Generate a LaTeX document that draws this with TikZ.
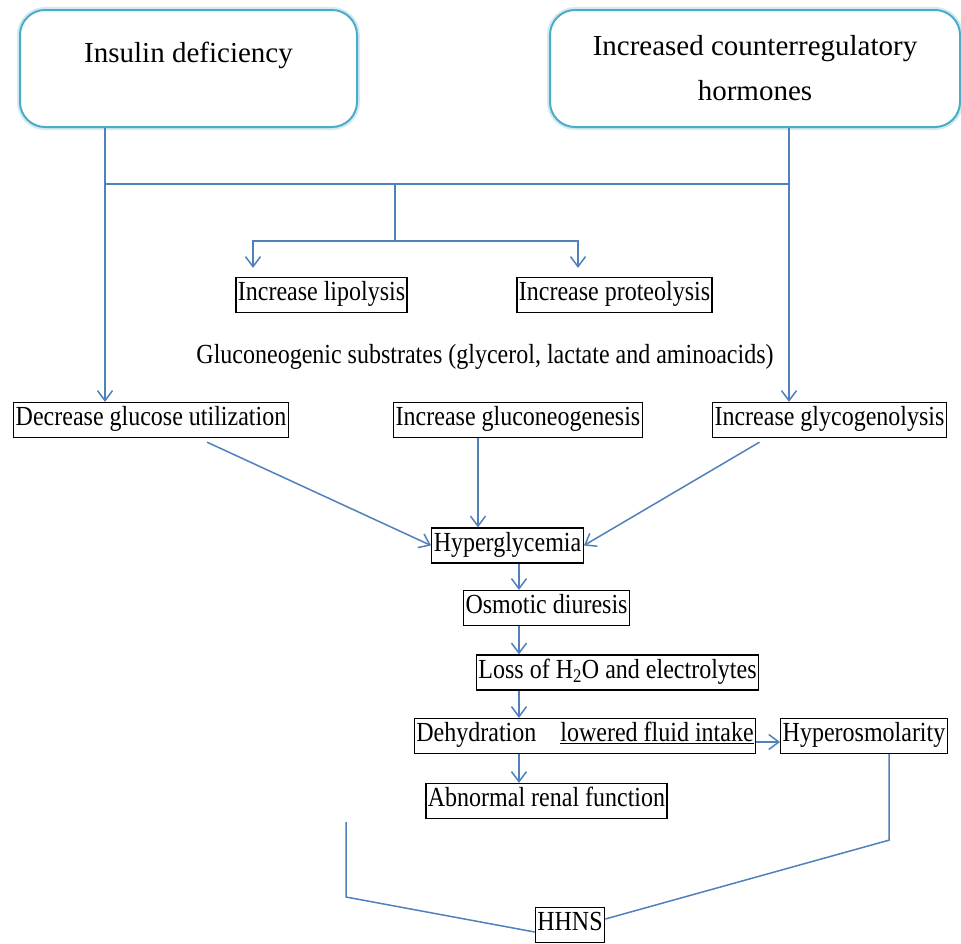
\documentclass[tikz,border=0pt]{standalone}
\usepackage{fontspec}
\setmainfont{Liberation Serif}
\usepackage{graphicx}
\usepackage{tikz}
\usetikzlibrary{arrows.meta}
\definecolor{wordblue}{RGB}{79,129,189}
\definecolor{boxteal}{RGB}{75,172,198}
\newcommand{\tallt}[1]{\scalebox{1}[1.15]{#1}}
\tikzstyle{cause} = [rounded corners=25pt, draw=boxteal, line width=2pt, preaction={draw=boxteal!25, line width=6pt}, fill=white, minimum width=337pt, minimum height=117pt, font=\fontsize{29}{45}\selectfont, align=center]
\tikzstyle{stage} = [draw=black, line width=1.3pt, fill=white, font=\fontsize{24}{28}\selectfont, inner xsep=2pt, inner ysep=0pt, text height=17pt, text depth=6pt, minimum height=35pt]
\tikzstyle{link} = [draw=wordblue, line width=1.5pt]
\tikzstyle{arrow} = [link, -{Straight Barb[length=10pt,width=15pt]}]

\begin{document}
\begin{tikzpicture}[x=1pt,y=-1pt]
	\useasboundingbox[fill=white] (0,0) rectangle (961,943);
	% causes
	\node[cause, text height=20pt, text depth=33pt] (ins) at (188.5,68.5) {Insulin deficiency};
	\node[cause, minimum width=410pt] (hor) at (755,68.5) {Increased counterregulatory\\hormones};
	\coordinate (jl) at (105,184);
	\coordinate (jr) at (789,184);
	\coordinate (jm) at (395,184);
	\coordinate (jm2) at (395,241);
	\coordinate (jlip) at (253,241);
	\coordinate (jpro) at (578,241);
	\coordinate (spine) at (519,0);
	% stages
	\node[stage] (lip) at (321.5,295) {\tallt{Increase lipolysis}};
	\node[stage] (pro) at (614.5,295) {\tallt{Increase proteolysis}};
	\node[font=\fontsize{24}{28}\selectfont] (subs) at (485,357) {\tallt{Gluconeogenic substrates (glycerol, lactate and aminoacids)}};
	\node[stage] (dgu) at (151,420) {\tallt{Decrease glucose utilization}};
	\node[stage] (igng) at (518,420) {\tallt{Increase gluconeogenesis}};
	\node[stage] (igly) at (829.5,420) {\tallt{Increase glycogenolysis}};
	\node[stage] (hyp) at (507.5,545.5) {\tallt{Hyperglycemia}};
	\node[stage] (osm) at (546.5,608) {\tallt{Osmotic diuresis}};
	\node[stage] (loss) at (617.5,672.5) {\tallt{Loss of H\textsubscript{2}O and electrolytes}};
	\node[stage] (deh) at (585,736) {\tallt{Dehydration\hspace{24pt}\underline{lowered fluid intake}}};
	\node[stage] (hos) at (864,736) {\tallt{Hyperosmolarity}};
	\node[stage] (arf) at (546.5,801) {\tallt{Abnormal renal function}};
	\node[stage] (hhns) at (570,925) {\tallt{HHNS}};
	\coordinate (bl) at (346,822);
	% connectors
	\draw[link] (jl) -- (jr);
	\draw[arrow] (ins.south -| jl) -- (dgu.north -| jl);
	\draw[arrow] (hor.south -| jr) -- (igly.north -| jr);
	\draw[link] (jm) -- (jm2);
	\draw[arrow, shorten >=9pt] (jm2) -- (jlip) -- (jlip |- lip.north);
	\draw[arrow, shorten >=9pt] (jm2) -- (jpro) -- (jpro |- pro.north);
	\draw[arrow] ([xshift=56pt,yshift=-4pt]dgu.south) -- (hyp.west);
	\draw[arrow] ([xshift=-40pt]igng.south) -- ([xshift=-40pt]igng.south |- hyp.north);
	\draw[arrow] ([xshift=-70pt,yshift=-4pt]igly.south) -- (hyp.east);
	\draw[arrow] (hyp.south -| spine) -- (osm.north -| spine);
	\draw[arrow] (osm.south -| spine) -- (loss.north -| spine);
	\draw[arrow] (loss.south -| spine) -- (deh.north -| spine);
	\draw[arrow] (deh.south -| spine) -- (arf.north -| spine);
	\draw[arrow] ([yshift=-6pt]deh.east) -- ([yshift=-6pt]hos.west);
	\draw[link] (bl) -- ++(0,75) -- ([yshift=-7pt]hhns.west);
	\draw[link] ([xshift=25pt]hos.south) -- ++(0,86) -- ([yshift=6pt]hhns.east);
\end{tikzpicture}
\end{document}
